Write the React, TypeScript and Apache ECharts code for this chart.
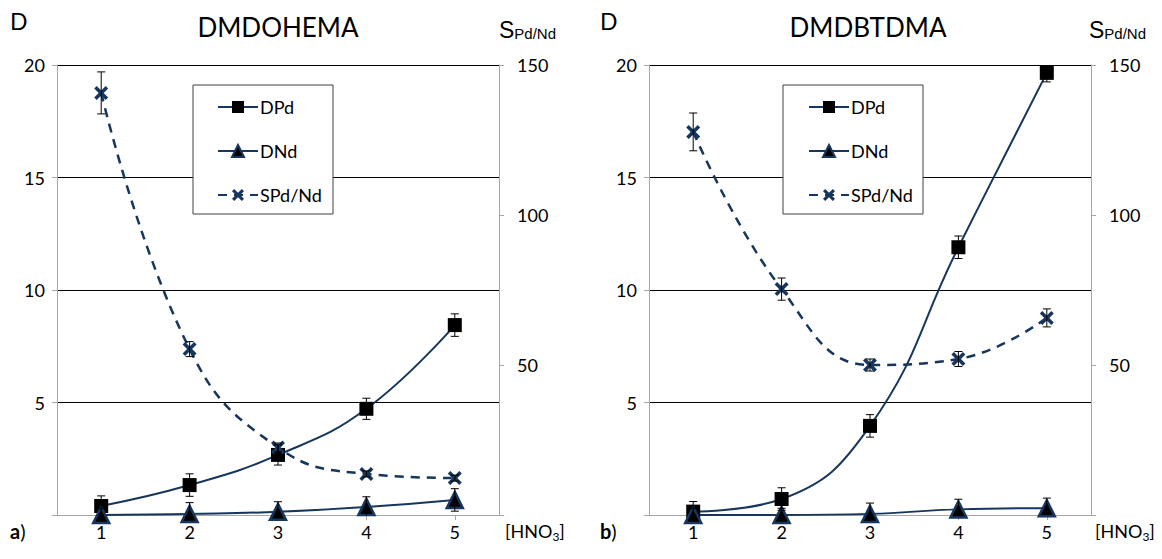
import React, { useEffect, useRef } from "react";
import * as echarts from "echarts";

const categories = ["1", "2", "3", "4", "5"];
const leftTicks = [0, 20, 5];
const rightTicks = [0, 150, 50];

// Chart a) DMDOHEMA
const dpdA = [0.4, 1.33, 2.67, 4.72, 8.44];
const dpdAErr = [0.45, 0.5, 0.45, 0.47, 0.5];
const dndA = [0, 0.05, 0.14, 0.36, 0.67];
const dndAErr = [0.3, 0.5, 0.45, 0.45, 0.5];
const spdA = [140.7, 55.3, 22.5, 13.7, 12.3];
const spdAErr = [7, 2.5, 1.5, 1, 1];

// Chart b) DMDBTDMA
const dpdB = [0.15, 0.71, 3.96, 11.9, 19.65];
const dpdBErr = [0.45, 0.5, 0.5, 0.5, 0.4];
const dndB = [0, 0, 0.05, 0.25, 0.3];
const dndBErr = [0.3, 0.3, 0.48, 0.45, 0.45];
const spdB = [127.7, 75.3, 50, 52, 65.7];
const spdBErr = [6.3, 3.7, 2, 2.5, 3];

const NAVY = "#17365d";
const GRAY = "#a6a6a6";
const FONT = "Lato";
const X_SYMBOL =
  "path://M0,1.8 L1.8,0 L5,3.2 L8.2,0 L10,1.8 L6.8,5 L10,8.2 L8.2,10 L5,6.8 L1.8,10 L0,8.2 L3.2,5 Z";

function errorSeries(vals: number[], errs: number[], xi: number, yi: number, yMax: number) {
  return {
    type: "custom",
    xAxisIndex: xi,
    yAxisIndex: yi,
    z: 5,
    silent: true,
    data: vals.map((v, i) => [i, v, errs[i]]),
    renderItem: (params: any, api: any) => {
      const x = api.value(0);
      const y = api.value(1);
      const e = api.value(2);
      const hiV = Math.min(y + e, yMax);
      const loV = Math.max(y - e, 0);
      const hi = api.coord([x, hiV]);
      const lo = api.coord([x, loV]);
      const w = 4;
      const st = { stroke: "#000", lineWidth: 1 };
      const children: any[] = [
        { type: "line", shape: { x1: hi[0], y1: hi[1], x2: lo[0], y2: lo[1] }, style: st },
      ];
      if (y + e <= yMax)
        children.push({ type: "line", shape: { x1: hi[0] - w, y1: hi[1], x2: hi[0] + w, y2: hi[1] }, style: st });
      if (y - e >= 0)
        children.push({ type: "line", shape: { x1: lo[0] - w, y1: lo[1], x2: lo[0] + w, y2: lo[1] }, style: st });
      return { type: "group", children };
    },
  };
}

function lineSeries(name: string, vals: number[], xi: number, yi: number, kind: string) {
  const base: any = {
    name,
    type: "line",
    xAxisIndex: xi,
    yAxisIndex: yi,
    data: vals,
    smooth: 0.45,
    z: 3,
    lineStyle: { color: NAVY, width: 2 },
  };
  if (kind === "square") {
    base.symbol = "rect";
    base.symbolSize = 14;
    base.itemStyle = { color: "#000", borderColor: "#000", borderWidth: 0 };
  } else if (kind === "triangle") {
    base.symbol = "triangle";
    base.symbolSize = 16;
    base.itemStyle = { color: "#000", borderColor: NAVY, borderWidth: 2.5 };
  } else {
    base.symbol = X_SYMBOL;
    base.symbolSize = 14;
    base.itemStyle = { color: NAVY, borderWidth: 0 };
    base.lineStyle = { color: NAVY, width: 2.5, type: [9, 7] };
  }
  return base;
}

function xAxis(gi: number) {
  return {
    type: "category",
    gridIndex: gi,
    data: categories,
    boundaryGap: true,
    axisLine: { show: true, lineStyle: { color: GRAY, width: 1 } },
    axisTick: { show: true, alignWithLabel: true, length: 5, lineStyle: { color: GRAY } },
    axisLabel: { color: "#000", fontSize: 18, fontFamily: FONT, margin: 8 },
    splitLine: { show: false },
  };
}

function yAxis(gi: number, ticks: number[], right: boolean) {
  return {
    type: "value",
    gridIndex: gi,
    position: right ? "right" : "left",
    min: ticks[0],
    max: ticks[1],
    interval: ticks[2],
    axisLine: { show: true, lineStyle: { color: GRAY, width: 1 } },
    axisTick: { show: true, length: 5, lineStyle: { color: GRAY } },
    axisLabel: {
      color: "#000",
      fontSize: 18,
      fontFamily: FONT,
      margin: right ? 18 : 12,
      formatter: (v: number) => (v === 0 ? "" : String(v)),
    },
    splitLine: right ? { show: false } : { show: true, lineStyle: { color: "#000", width: 1 } },
  };
}

function panelGraphics(off: number, title: string, letter: string) {
  return [
    { type: "text", left: 10 + off, top: 9, style: { text: "D", fontSize: 23, fontFamily: FONT, fill: "#000" } },
    {
      type: "text",
      x: 278 + off,
      y: 27,
      style: { text: title, fontSize: 26, fontFamily: FONT, fill: "#000", align: "center", verticalAlign: "middle" },
    },
    {
      type: "text",
      x: 499 + off,
      y: 12,
      style: {
        text: "{s|S}{sub|Pd/Nd}",
        rich: {
          s: { fontSize: 23, fontFamily: "Liberation Sans", fill: "#000", verticalAlign: "bottom" },
          sub: { fontSize: 15, fontFamily: "Liberation Sans", fill: "#000", padding: [14, 0, 0, 0], verticalAlign: "bottom" },
        },
      },
    },
    {
      type: "text",
      x: 10 + off,
      y: 531,
      style: {
        text: "{b|" + letter + "}{n|)}",
        verticalAlign: "middle",
        rich: {
          b: { fontSize: 20, fontWeight: "bold", fontFamily: FONT, fill: "#000" },
          n: { fontSize: 20, fontFamily: FONT, fill: "#000" },
        },
      },
    },
    {
      type: "text",
      x: 505 + off,
      y: 531,
      style: {
        text: "{n|[HNO}{sub|3}{n|]}",
        verticalAlign: "middle",
        rich: {
          n: { fontSize: 18, fontFamily: FONT, fill: "#000" },
          sub: { fontSize: 12, fontFamily: FONT, fill: "#000", padding: [10, 0, 0, 0] },
        },
      },
    },
    {
      type: "rect",
      z: 1,
      shape: { x: 193 + off, y: 85, width: 140, height: 129 },
      style: { fill: "#fff", stroke: "#404040", lineWidth: 1 },
    },
  ];
}

export default function App() {
  const ref = useRef<HTMLDivElement>(null);
  useEffect(() => {
    document.body.style.margin = "0";
    if (!ref.current) return;
    const chart = echarts.init(ref.current, undefined, { renderer: "svg" });
    const legendNames = ["DPd", "DNd", "SPd/Nd"];
    const legend = (off: number) => ({
      orient: "vertical",
      left: 212 + off,
      top: 93,
      itemWidth: 40,
      itemHeight: 15,
      itemGap: 26,
      textStyle: { fontSize: 18, fontFamily: FONT, color: "#000", padding: [0, 0, 0, -3] },
      data: legendNames,
      selectedMode: false,
      z: 6,
    });
    chart.setOption({
      animation: false,
      backgroundColor: "#fff",
      textStyle: { fontFamily: FONT },
      grid: [
        { left: 57, top: 65, width: 442, height: 450 },
        { left: 649, top: 65, width: 442, height: 450 },
      ],
      xAxis: [xAxis(0), xAxis(1)],
      yAxis: [yAxis(0, leftTicks, false), yAxis(0, rightTicks, true), yAxis(1, leftTicks, false), yAxis(1, rightTicks, true)],
      legend: [legend(0), legend(591)],
      graphic: [...panelGraphics(0, "DMDOHEMA", "a"), ...panelGraphics(590, "DMDBTDMA", "b")],
      series: [
        lineSeries("DPd", dpdA, 0, 0, "square"),
        lineSeries("DNd", dndA, 0, 0, "triangle"),
        lineSeries("SPd/Nd", spdA, 0, 1, "x"),
        lineSeries("DPd", dpdB, 1, 2, "square"),
        lineSeries("DNd", dndB, 1, 2, "triangle"),
        lineSeries("SPd/Nd", spdB, 1, 3, "x"),
        errorSeries(dpdA, dpdAErr, 0, 0, 20),
        errorSeries(dndA, dndAErr, 0, 0, 20),
        errorSeries(spdA, spdAErr, 0, 1, 150),
        errorSeries(dpdB, dpdBErr, 1, 2, 20),
        errorSeries(dndB, dndBErr, 1, 2, 20),
        errorSeries(spdB, spdBErr, 1, 3, 150),
      ],
    });
    return () => chart.dispose();
  }, []);
  return <div ref={ref} style={{ width: 1162, height: 559 }} />;
}
